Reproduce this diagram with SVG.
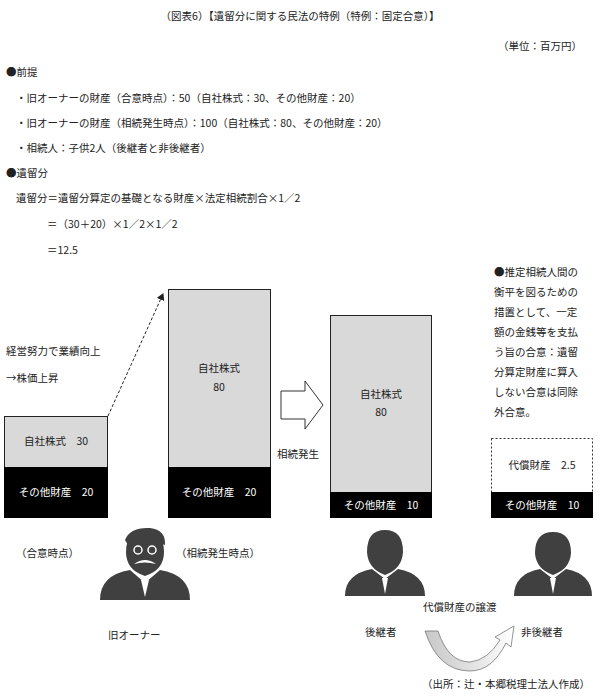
<svg xmlns="http://www.w3.org/2000/svg" width="600" height="697" viewBox="0 0 600 697">
<style>
text{font-family:"Noto Sans CJK JP","Liberation Sans",sans-serif;font-size:10.5px;fill:#222}
.w{fill:#fff}
.g{fill:#d9d9d9;stroke:#222;stroke-width:1}
.b{fill:#000}
.p{fill:#404040}
</style>
<defs>
<marker id="ah" markerWidth="8" markerHeight="8" refX="6" refY="4" orient="auto" markerUnits="userSpaceOnUse"><path d="M0,0 L7,4 L0,8z" fill="#222"/></marker>
<linearGradient id="cg" x1="0" y1="0" x2="1" y2="0"><stop offset="0" stop-color="#c8c8c8"/><stop offset="0.5" stop-color="#e0e0e0"/><stop offset="1" stop-color="#fff"/></linearGradient>
</defs>
<rect width="600" height="697" fill="#fff"/>
<g id="header">
<text x="300" y="20" text-anchor="middle" font-size="12">（図表6）【遺留分に関する民法の特例（特例：固定合意）】</text>
<text x="582" y="50" text-anchor="end" font-size="9.5">（単位：百万円）</text>
<text x="6" y="76">●前提</text>
<text x="16" y="102">・旧オーナーの財産（合意時点）：50（自社株式：30、その他財産：20）</text>
<text x="16" y="127">・旧オーナーの財産（相続発生時点）：100（自社株式：80、その他財産：20）</text>
<text x="16" y="152">・相続人：子供2人（後継者と非後継者）</text>
<text x="6" y="177">●遺留分</text>
<text x="16" y="202">遺留分＝遺留分算定の基礎となる財産×法定相続割合×1／2</text>
<text x="47" y="228">＝（30＋20）×1／2×1／2</text>
<text x="47" y="254">＝12.5</text>
</g>
<g id="box1">
<rect class="g" x="4.5" y="416.5" width="103" height="51"/>
<rect class="b" x="4" y="467" width="104" height="51"/>
<text x="56" y="445" text-anchor="middle">自社株式　30</text>
<text class="w" x="56" y="496" text-anchor="middle">その他財産　20</text>
</g>
<g id="box2">
<rect class="g" x="168.5" y="289.5" width="102" height="178"/>
<rect class="b" x="168" y="467" width="103" height="51"/>
<text x="219" y="372" text-anchor="middle">自社株式</text>
<text x="219" y="391" text-anchor="middle">80</text>
<text class="w" x="219" y="496" text-anchor="middle">その他財産　20</text>
</g>
<g id="box3">
<rect class="g" x="330.5" y="315.5" width="101" height="177"/>
<rect class="b" x="330" y="492" width="102" height="26"/>
<text x="381" y="398" text-anchor="middle">自社株式</text>
<text x="381" y="416" text-anchor="middle">80</text>
<text class="w" x="381" y="509" text-anchor="middle">その他財産　10</text>
</g>
<g id="box4">
<rect x="491.5" y="438.5" width="101" height="54" fill="#fff" stroke="#333" stroke-dasharray="2,2"/>
<rect class="b" x="491" y="492" width="102" height="26"/>
<text x="542" y="469" text-anchor="middle">代償財産　2.5</text>
<text class="w" x="542" y="509" text-anchor="middle">その他財産　10</text>
</g>
<g id="notes">
<text x="6" y="355">経営努力で業績向上</text>
<text x="6" y="382">→株価上昇</text>
<text x="277" y="458">相続発生</text>
<text x="494" y="276">●推定相続人間の</text>
<text x="494" y="296">衡平を図るための</text>
<text x="494" y="316">措置として、一定</text>
<text x="494" y="336">額の金銭等を支払</text>
<text x="494" y="356">う旨の合意：遺留</text>
<text x="494" y="376">分算定財産に算入</text>
<text x="494" y="396">しない合意は同除</text>
<text x="494" y="416">外合意。</text>
<text x="16" y="557">（合意時点）</text>
<text x="176" y="557">（相続発生時点）</text>
<text x="108" y="639">旧オーナー</text>
<text x="365" y="636">後継者</text>
<text x="423" y="611">代償財産の譲渡</text>
<text x="521" y="636">非後継者</text>
<text x="422" y="688">（出所：辻・本郷税理士法人作成）</text>
</g>
<g id="connectors">
<path d="M108,416 L163,294" stroke="#222" stroke-dasharray="3,2" fill="none" marker-end="url(#ah)"/>
<path d="M281,391 H305 V381 L323,405 L305,429 V419 H281 Z" fill="#fff" stroke="#333"/>
<path d="M425,631 L438,631 Q448,662 470,662 Q488,660 500,640 L495,637 L514,626 L511,647 L506,643 Q492,671 470,671 Q438,671 425,631 Z" fill="url(#cg)" stroke="#666" stroke-width="0.7"/>
</g>
<g id="owner">
<path class="p" d="M100,600 Q100,575 130,570 L145,583 L160,570 Q190,575 190,600 Z"/>
<path class="p" d="M145,531 Q126,531 126,552 Q126,570 145,576 Q164,570 164,552 Q164,531 145,531 Z"/>
<path class="p" d="M125,540 Q130,527 150,528 Q166,530 165,545 L162,544 Q158,537 145,537 L128,545 Z"/>
<g fill="none" stroke="#fff" stroke-width="1.5"><circle cx="138" cy="550" r="4"/><circle cx="152" cy="550" r="4"/></g>
<path d="M134,564 Q145,556 156,564 Q145,561 134,564Z" fill="#fff"/>
<path d="M141,580 L145,597 L149,580 Z" fill="#fff"/>
</g>
<g id="successor">
<path class="p" d="M345,596 Q345,574 372,569 L385,579 L398,569 Q425,574 425,596 Z"/>
<path class="p" d="M385,530 Q367,530 367,552 Q368,569 385,575 Q402,569 403,552 Q403,530 385,530 Z"/>
<path d="M382,578 L385,594 L388,578 Z" fill="#fff"/>
</g>
<g id="nonsuccessor">
<path class="p" d="M514,596 Q514,574 540,569 L553,579 L566,569 Q592,574 592,596 Z"/>
<path class="p" d="M553,532 Q535,532 535,553 Q536,569 553,575 Q570,569 571,553 Q571,532 553,532 Z"/>
<path d="M550,578 L553,594 L556,578 Z" fill="#fff"/>
</g>
</svg>
